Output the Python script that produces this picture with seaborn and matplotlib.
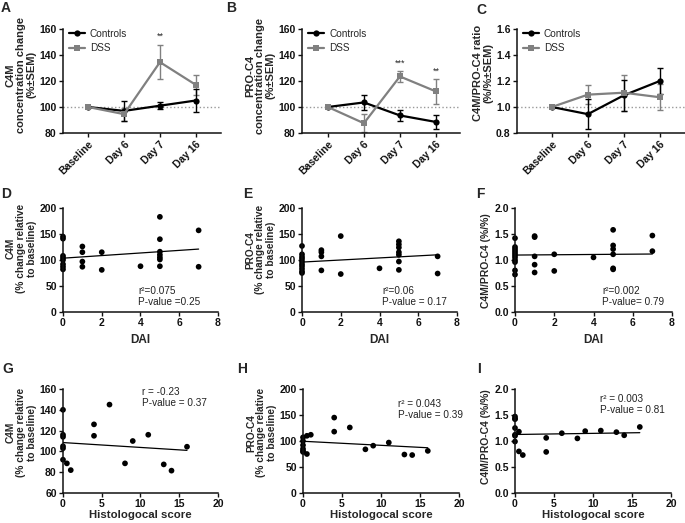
import numpy as np
import pandas as pd
import seaborn as sns
import matplotlib.pyplot as plt

sns.set_theme(style='ticks')
plt.rcParams['font.family'] = ['Liberation Sans', 'DejaVu Sans']

# ---- time course data (mean, SEM) ----
days = ["Baseline", "Day 6", "Day 7", "Day 16"]
groups = ["Controls", "DSS"]

c4m_ctrl = [100, 97, 101, 105]
c4m_ctrl_sem = [0, 7.5, 2.5, 8.5]
c4m_dss = [100, 94.5, 134.5, 117]
c4m_dss_sem = [0, 5, 13, 7.5]

proc4_ctrl = [100, 103.5, 93.5, 88.5]
proc4_ctrl_sem = [0, 6, 4, 5.5]
proc4_dss = [100, 87.5, 123.5, 112]
proc4_dss_sem = [0, 7, 4, 9.5]

ratio_ctrl = [1.0, 0.945, 1.09, 1.2]
ratio_ctrl_sem = [0, 0.115, 0.12, 0.1]
ratio_dss = [1.0, 1.095, 1.11, 1.075]
ratio_dss_sem = [0, 0.075, 0.14, 0.1]

# ---- DAI correlations ----
dai_c4m_x = [0, 0, 0, 0, 0, 0, 0, 0, 1, 1, 1, 1, 2, 2, 4, 5, 5, 5, 5, 5, 5, 5, 7, 7]
dai_c4m_y = [145, 141, 108, 104, 100, 92, 87, 82, 126, 115, 97, 87, 115, 81, 88,
             183, 140, 116, 110, 105, 101, 88, 157, 87]
dai_c4m_fit = ([0, 7], [103.5, 121])

dai_proc4_x = [0, 0, 0, 0, 0, 0, 0, 0, 0, 0, 1, 1, 1, 1, 2, 2, 4, 5, 5, 5, 5, 5, 5, 5, 7, 7]
dai_proc4_y = [127, 111, 106, 102, 97, 92, 88, 83, 78, 75, 119, 115, 107, 80, 146, 73, 84,
               136, 130, 124, 115, 110, 97, 81, 107, 74]
dai_proc4_fit = ([0, 7], [96, 110])

dai_ratio_x = [0, 0, 0, 0, 0, 0, 0, 0, 0, 0, 0, 1, 1, 1, 1, 1, 2, 2, 4, 5, 5, 5, 5, 5, 5, 7, 7]
dai_ratio_y = [1.42, 1.25, 1.21, 1.17, 1.13, 1.09, 1.05, 1.0, 0.96, 0.8, 0.72,
               1.46, 1.44, 1.07, 0.91, 0.76, 1.11, 0.79, 1.05,
               1.58, 1.28, 1.21, 1.11, 0.84, 0.82, 1.47, 1.17]
dai_ratio_fit = ([0, 7], [1.095, 1.115])

# ---- histological score correlations ----
hist_c4m_x = [0, 0, 0, 0, 0, 0, 0.5, 1, 4, 4, 6, 8, 9, 11, 13, 14, 16]
hist_c4m_y = [140, 116, 114, 105, 103, 92, 88.5, 82, 126, 115, 145, 88.5, 110, 116, 87.5, 81.5, 104.5]
hist_c4m_fit = ([0, 16], [108.5, 101])

hist_proc4_x = [0, 0, 0, 0, 0, 0, 0.5, 0.5, 1, 4, 4, 6, 8, 9, 11, 13, 14, 16]
hist_proc4_y = [107, 100, 92, 85, 81, 79, 110, 75, 112, 145, 118, 126, 84, 91, 97, 74, 73, 81]
hist_proc4_fit = ([0, 16], [99.5, 87])

hist_ratio_x = [0, 0, 0, 0, 0, 0, 0, 0.5, 0.5, 1, 4, 4, 6, 8, 9, 11, 13, 14, 16]
hist_ratio_y = [1.47, 1.43, 1.42, 1.25, 1.12, 1.1, 0.99, 1.18, 0.8, 0.73, 1.06, 0.79,
                1.15, 1.05, 1.19, 1.2, 1.17, 1.11, 1.27]
hist_ratio_fit = ([0, 16], [1.125, 1.16])

W, H = 685, 523
fig = plt.figure(figsize=(W / 100, H / 100), dpi=100)
GRAY = '#808080'


def px_axes(l, t, w, h):
    return fig.add_axes([l / W, 1 - (t + h) / H, w / W, h / H])


def finish(ax, ylabel, ycenter, yticks, fmt=None, lsize=8):
    sns.despine(ax=ax)
    for s in ['left', 'bottom']:
        ax.spines[s].set_linewidth(1.1)
        ax.spines[s].set_color('#111111')
    ax.set_yticks(yticks)
    ax.set_ylim(yticks[0], yticks[-1])
    if fmt:
        ax.set_yticklabels([fmt.format(v) for v in yticks])
    ax.tick_params(length=3, width=1, labelsize=7.5, pad=1.5, colors='#111111')
    for lab in ax.get_xticklabels() + ax.get_yticklabels():
        lab.set_fontweight('bold')
    ax.set_ylabel(ylabel, fontsize=lsize, fontweight='bold', labelpad=2, linespacing=1.05)
    ax.yaxis.label.set_y(ycenter)


def time_panel(ax, ctrl, ctrl_sem, dss, dss_sem, ref, xlim):
    df = pd.DataFrame({'day': days * 2, 'value': ctrl + dss,
                       'group': ['Controls'] * 4 + ['DSS'] * 4})
    ax.axhline(ref, color='#999999', ls=':', lw=1, zorder=0)
    for vals, sem, col in [(dss, dss_sem, GRAY), (ctrl, ctrl_sem, 'black')]:
        ax.errorbar(days, vals, yerr=sem, fmt='none', ecolor=col, elinewidth=1,
                    capsize=2.5, capthick=1, clip_on=False)
    sns.lineplot(data=df, x='day', y='value', hue='group', style='group',
                 palette={'Controls': 'black', 'DSS': GRAY},
                 markers={'Controls': 'o', 'DSS': 's'}, dashes=False,
                 markersize=4.5, markeredgewidth=0, linewidth=1.6, ax=ax,
                 clip_on=False)
    handles, labels = ax.get_legend_handles_labels()
    ax.legend(handles, labels, loc='upper left', bbox_to_anchor=(0.0, 1.06), frameon=False,
              fontsize=7.2, handlelength=1.6, handletextpad=0.5, labelspacing=0.45,
              borderaxespad=0.2)
    ax.set_xlim(*xlim)
    ax.set_xlabel('')
    plt.setp(ax.get_xticklabels(), rotation=45, ha='right', rotation_mode='anchor')


def scatter_panel(ax, x, y, fit, xticks, note, note_xy):
    sns.scatterplot(x=x, y=y, color='black', s=17, edgecolor='none', ax=ax, clip_on=False)
    sns.lineplot(x=fit[0], y=fit[1], color='black', lw=0.9, ax=ax)
    ax.set_xticks(xticks)
    ax.set_xlim(xticks[0], xticks[-1])
    fig.text(note_xy[0] / W, 1 - note_xy[1] / H, note, fontsize=7.2, color='#222222',
             va='top', ha='left', linespacing=1.15)


# ---- row 1 ----
axA = px_axes(63, 29, 158, 104)
time_panel(axA, c4m_ctrl, c4m_ctrl_sem, c4m_dss, c4m_dss_sem, 100, (-0.7, 3.7))
finish(axA, 'C4M\nconcentration change\n(%±SEM)', 0.56, [80, 100, 120, 140, 160])
axA.text(2, 151, '**', ha='center', va='bottom', fontsize=6.5)

axB = px_axes(302, 29, 158, 104)
time_panel(axB, proc4_ctrl, proc4_ctrl_sem, proc4_dss, proc4_dss_sem, 100, (-0.72, 3.67))
finish(axB, 'PRO-C4\nconcentration change\n(%±SEM)', 0.55, [80, 100, 120, 140, 160])
axB.text(2, 130.5, '***', ha='center', va='bottom', fontsize=6.5)
axB.text(3, 124, '**', ha='center', va='bottom', fontsize=6.5)

axC = px_axes(517, 29, 168, 104)
time_panel(axC, ratio_ctrl, ratio_ctrl_sem, ratio_dss, ratio_dss_sem, 1.0, (-0.97, 3.7))
finish(axC, 'C4M/PRO-C4 ratio\n(%/%±SEM)', 0.58, [0.8, 1.0, 1.2, 1.4, 1.6], '{:.1f}')

# ---- row 2 ----
axD = px_axes(63, 208, 155, 104)
scatter_panel(axD, dai_c4m_x, dai_c4m_y, dai_c4m_fit, [0, 2, 4, 6, 8],
              'r²=0.075\nP-value =0.25', (138, 286))
finish(axD, 'C4M\n(% change relative\nto baseline)', 0.61, [0, 50, 100, 150, 200], lsize=7.3)

axE = px_axes(302, 208, 155, 104)
scatter_panel(axE, dai_proc4_x, dai_proc4_y, dai_proc4_fit, [0, 2, 4, 6, 8],
              'r²=0.06\nP-value = 0.17', (382, 286))
finish(axE, 'PRO-C4\n(% change relative\nto baseline)', 0.6, [0, 50, 100, 150, 200], lsize=7.3)

axF = px_axes(515, 208, 157, 104)
scatter_panel(axF, dai_ratio_x, dai_ratio_y, dai_ratio_fit, [0, 2, 4, 6, 8],
              'r²=0.002\nP-value= 0.79', (602, 286))
finish(axF, 'C4M/PRO-C4 (%/%)', 0.49, [0.0, 0.5, 1.0, 1.5, 2.0], '{:.1f}', lsize=7.5)

for ax in (axD, axE, axF):
    ax.set_xlabel('DAI', fontsize=8.5, fontweight='bold', labelpad=4)

# ---- row 3 ----
axG = px_axes(63, 389, 155, 104)
scatter_panel(axG, hist_c4m_x, hist_c4m_y, hist_c4m_fit, [0, 5, 10, 15, 20],
              'r = -0.23\nP-value = 0.37', (142, 387))
finish(axG, 'C4M\n(% change relative\nto baseline)', 0.58, [60, 80, 100, 120, 140, 160], lsize=7.3)

axH = px_axes(303, 389, 156, 104)
scatter_panel(axH, hist_proc4_x, hist_proc4_y, hist_proc4_fit, [0, 5, 10, 15, 20],
              'r² = 0.043\nP-value = 0.39', (398, 399))
finish(axH, 'PRO-C4\n(% change relative\nto baseline)', 0.58, [0, 50, 100, 150, 200], lsize=7.3)

axI = px_axes(515, 389, 156, 104)
scatter_panel(axI, hist_ratio_x, hist_ratio_y, hist_ratio_fit, [0, 5, 10, 15, 20],
              'r² = 0.003\nP-value = 0.81', (600, 394))
finish(axI, 'C4M/PRO-C4 (%/%)', 0.54, [0.0, 0.5, 1.0, 1.5, 2.0], '{:.1f}', lsize=7.5)

for ax in (axG, axH, axI):
    ax.set_xlabel('Histologocal score', fontsize=8.2, fontweight='bold', labelpad=0.5)

# ---- panel letters ----
letters = [('A', 1, 1), ('B', 226, 1), ('C', 476, 3),
           ('D', 1, 187), ('E', 243, 187), ('F', 476, 187),
           ('G', 2, 362), ('H', 237, 362), ('I', 477, 362)]
for lt, x, y in letters:
    fig.text(x / W, 1 - y / H, lt, fontsize=10, fontweight='bold', va='top', ha='left')

fig.savefig('out.png', dpi=100)
